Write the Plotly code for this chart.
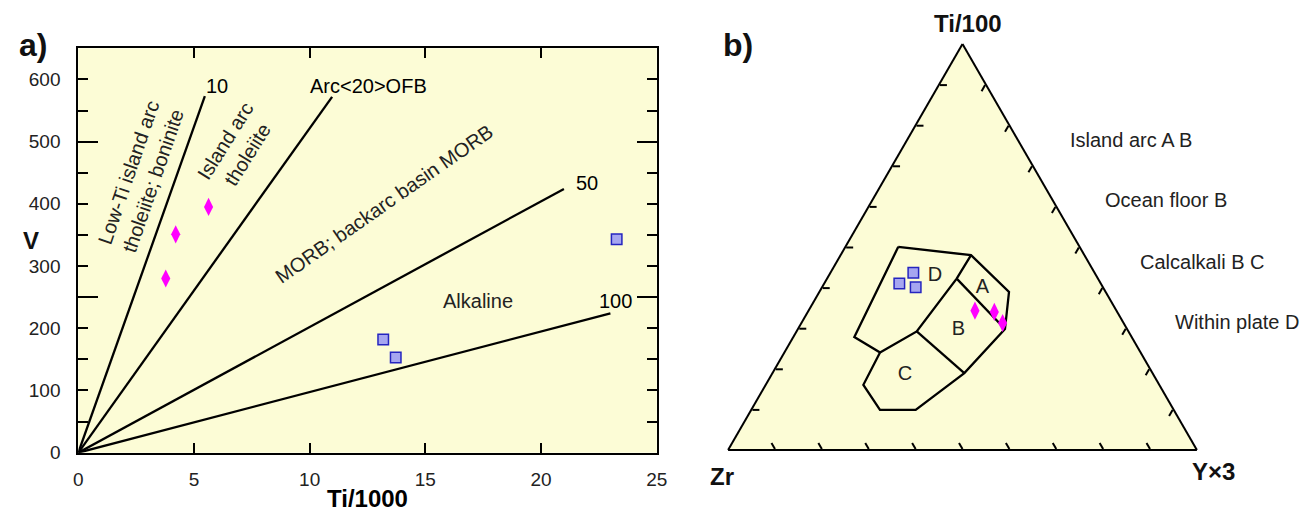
import plotly.graph_objects as go

# ---------------- panel a: Ti/1000 vs V (Shervais) ----------------
x_ticks = [0, 5, 10, 15, 20, 25]
y_ticks = [0, 100, 200, 300, 400, 500, 600]
y_long_ticks = [0, 250, 500]

ratio_names = ["10", "Arc<20>OFB", "50", "100"]
ratio_end_ti = [5.47, 10.97, 20.99, 23.0]
ratio_end_v = [573, 572, 424, 224]
ratio_label_ti = [5.98, 12.54, 21.97, 23.2]
ratio_label_v = [590, 589, 433, 244]

field_names_a = ["Low-Ti island arc<br>tholeiite; boninite", "Island arc<br>tholeiite",
                 "MORB; backarc basin MORB", "Alkaline"]
field_ti_a = [2.70, 6.82, 13.21, 17.27]
field_v_a = [443, 490, 400, 244]

diamond_ti = [3.78, 4.21, 5.63]
diamond_v = [280, 351, 395]
square_ti = [13.18, 13.72, 23.27]
square_v = [182, 153, 343]

# ---------------- panel b: Ti/100 - Zr - Y*3 (Pearce & Cann) ----------------
outline_ti = [0.5005, 0.4798, 0.3894, 0.2980, 0.1894, 0.0988, 0.0988, 0.1605, 0.2402, 0.2783, 0.5005]
outline_zr = [0.3867, 0.2419, 0.2061, 0.2604, 0.4014, 0.5505, 0.6266, 0.6312, 0.5558, 0.5916, 0.3867]
outline_y = [0.1128, 0.2783, 0.4045, 0.4416, 0.4092, 0.3507, 0.2746, 0.2083, 0.2040, 0.1301, 0.1128]

split_dbc_ti = [0.4798, 0.4222, 0.2921, 0.2402]
split_dbc_zr = [0.2419, 0.3013, 0.4516, 0.5558]
split_dbc_y = [0.2783, 0.2765, 0.2563, 0.2040]

split_ab_ti = [0.4222, 0.2980]
split_ab_zr = [0.3013, 0.2604]
split_ab_y = [0.2765, 0.4416]

split_bc_ti = [0.2921, 0.1894]
split_bc_zr = [0.4516, 0.4014]
split_bc_y = [0.2563, 0.4092]

field_names_b = ["D", "A", "B", "C"]
field_ti_b = [0.4296, 0.3993, 0.2963, 0.1852]
field_zr_b = [0.3437, 0.2581, 0.3608, 0.5299]
field_y_b = [0.2267, 0.3426, 0.3429, 0.2849]

tern_sq_ti = [0.4099, 0.4363, 0.4007]
tern_sq_zr = [0.4298, 0.3867, 0.3995]
tern_sq_y = [0.1603, 0.1770, 0.1998]

tern_di_ti = [0.3432, 0.3400, 0.3128]
tern_di_zr = [0.3018, 0.2621, 0.2580]
tern_di_y = [0.3550, 0.3979, 0.4292]

legend_texts = ["Island arc A B", "Ocean floor B", "Calcalkali B C", "Within plate D"]

# ---------------- styling ----------------
BG = "#fcfcd6"
FONT = "Liberation Sans, Arial, sans-serif"
MAGENTA = "#ff00ff"
SQ_FILL = "#a6a6f0"
SQ_LINE = "#2424c0"

fig = go.Figure()

for i, name in enumerate(ratio_names):
    fig.add_trace(go.Scatter(x=[0, ratio_end_ti[i]], y=[0, ratio_end_v[i]], mode="lines",
                             line=dict(color="black", width=2.3), hoverinfo="skip"))

fig.add_trace(go.Scatter(x=diamond_ti, y=diamond_v, mode="markers",
                         marker=dict(symbol="diamond-tall", size=13, color=MAGENTA, line=dict(width=0))))
fig.add_trace(go.Scatter(x=square_ti, y=square_v, mode="markers",
                         marker=dict(symbol="square", size=10.5, color=SQ_FILL, line=dict(color=SQ_LINE, width=1.5))))
# helper trace so the overlay axis (long ticks) is drawn
fig.add_trace(go.Scatter(x=[], y=[], yaxis="y3", hoverinfo="skip"))

annotations = []
for i, name in enumerate(ratio_names):
    annotations.append(dict(x=ratio_label_ti[i], y=ratio_label_v[i], xref="x", yref="y", text=name,
                            xanchor="center", yanchor="middle",
                            showarrow=False, font=dict(size=20, color="black", family=FONT)))
angles_a = [-71, -58, -35, 0]
for i, name in enumerate(field_names_a):
    annotations.append(dict(x=field_ti_a[i], y=field_v_a[i], xref="x", yref="y", text=name,
                            xanchor="center", yanchor="middle",
                            textangle=angles_a[i], showarrow=False,
                            font=dict(size=20, color="#222222", family=FONT)))

# ternary traces
line_style = dict(color="black", width=2.3)
for a_, b_, c_ in [(outline_ti, outline_zr, outline_y), (split_dbc_ti, split_dbc_zr, split_dbc_y),
                   (split_ab_ti, split_ab_zr, split_ab_y), (split_bc_ti, split_bc_zr, split_bc_y)]:
    fig.add_trace(go.Scatterternary(a=a_, b=b_, c=c_, mode="lines", line=line_style, hoverinfo="skip"))

fig.add_trace(go.Scatterternary(a=field_ti_b, b=field_zr_b, c=field_y_b, mode="text", text=field_names_b,
                                textfont=dict(size=20, color="#222222", family=FONT)))
fig.add_trace(go.Scatterternary(a=tern_sq_ti, b=tern_sq_zr, c=tern_sq_y, mode="markers",
                                marker=dict(symbol="square", size=10.5, color=SQ_FILL,
                                            line=dict(color=SQ_LINE, width=1.5))))
fig.add_trace(go.Scatterternary(a=tern_di_ti, b=tern_di_zr, c=tern_di_y, mode="markers",
                                marker=dict(symbol="diamond-tall", size=13, color=MAGENTA, line=dict(width=0))))

# right-hand text list
leg_x = [1068, 1103, 1138, 1173]
leg_y = [140, 200, 262, 322]
for i, t in enumerate(legend_texts):
    annotations.append(dict(x=leg_x[i] / 1300, y=1 - leg_y[i] / 512, xref="paper", yref="paper",
                            xanchor="left", yanchor="middle", text=t, showarrow=False,
                            font=dict(size=20, color="#222222", family=FONT)))

bold = dict(size=24, color="black", family=FONT)
corner_labels = [("<b>a)</b>", 33, 45, 32), ("<b>b)</b>", 738, 45, 32), ("<b>V</b>", 31, 240, 24),
                 ("<b>Ti/100</b>", 968, 23, 24), ("<b>Zr</b>", 722, 476, 24), ("<b>Y×3</b>", 1213, 471, 24)]
for txt, px, py, fs in corner_labels:
    annotations.append(dict(x=px / 1300, y=1 - py / 512, xref="paper", yref="paper", text=txt,
                            xanchor="center", yanchor="middle", showarrow=False,
                            font=dict(size=fs, color="#111111", family=FONT)))

tern_axis = dict(title=dict(text=""), showticklabels=False, ticks="inside", ticklen=7, tickwidth=1.5,
                 tickcolor="black", tick0=0, dtick=0.1, showgrid=False, linecolor="black", linewidth=2, min=0)

fig.update_layout(
    width=1300, height=512,
    margin=dict(l=0, r=0, t=0, b=0, pad=0, autoexpand=False),
    paper_bgcolor="white", plot_bgcolor=BG,
    showlegend=False,
    font=dict(family=FONT, size=19, color="#222222"),
    xaxis=dict(domain=[78.3 / 1300, 656.7 / 1300], range=[0, 25], tickvals=x_ticks, automargin=False,
               ticks="inside", ticklen=10, tickwidth=2, tickcolor="black",
               showline=True, linecolor="black", linewidth=2, mirror="ticks",
               showgrid=False, zeroline=False, ticklabelstandoff=8,
               tickfont=dict(size=19, color="#222222"),
               title=dict(text="<b>Ti/1000</b>", font=bold, standoff=11)),
    yaxis=dict(domain=[1 - 452.7 / 512, 1 - 48.3 / 512], range=[0, 650], tickvals=y_ticks, automargin=False,
               ticks="inside", ticklen=10, tickwidth=2, tickcolor="black",
               minor=dict(dtick=50, tick0=0, ticks="inside", ticklen=10, tickwidth=2, tickcolor="black"),
               showline=True, linecolor="black", linewidth=2, mirror="ticks",
               showgrid=False, zeroline=False, ticklabelstandoff=12,
               tickfont=dict(size=19, color="#222222")),
    yaxis3=dict(overlaying="y", matches="y", anchor="x", side="left", range=[0, 650], automargin=False,
                tickvals=y_long_ticks, ticks="inside", ticklen=20, tickwidth=2, tickcolor="black",
                showticklabels=False, showline=True, linecolor="black", linewidth=2, mirror="ticks",
                showgrid=False, zeroline=False),
    ternary=dict(domain=dict(x=[728 / 1300, 1197 / 1300], y=[1 - 450 / 512, 1 - 44 / 512]),
                 bgcolor=BG, sum=1, aaxis=tern_axis, baxis=tern_axis, caxis=tern_axis),
    annotations=annotations,
)

fig.write_html("out.html", config={"displayModeBar": False},
               post_script="document.body.style.margin='0px';document.body.style.overflow='hidden';")
